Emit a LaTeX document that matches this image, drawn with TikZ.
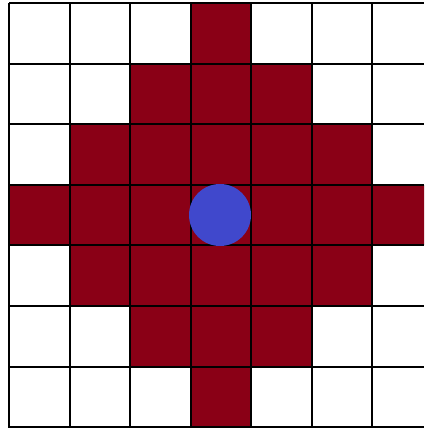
\documentclass[tikz,border=0pt]{standalone}
\usepackage{tikz}
\definecolor{cellred}{RGB}{138,0,22}
\definecolor{dotblue}{RGB}{64,72,204}
\begin{document}
\begin{tikzpicture}[x=0.25mm,y=-0.25mm,line width=0.5mm]
\useasboundingbox (0,0) rectangle (424,428);
\clip (0,0) rectangle (424,428);
\fill[white] (0,0) rectangle (424,428);
% cells within distance 3 of the centre
\foreach \i in {0,...,6}
  \foreach \j in {0,...,6}
  {\pgfmathtruncatemacro{\d}{abs(\i-3)+abs(\j-3)}
   \ifnum\d<4 \fill[cellred] ({9+60.5*\i},{3+60.6*\j}) rectangle ++(60.5,60.6);\fi}
\foreach \i in {0,...,7} \draw[black] ({9+60.5*\i},3) -- ({9+60.5*\i},428);
\foreach \j in {0,...,7} \draw[black] (9,{3+60.6*\j}) -- (424,{3+60.6*\j});
\node[circle,fill=dotblue,inner sep=0pt,minimum size=15.5mm] (agent) at (220,215) {};
\end{tikzpicture}
\end{document}
